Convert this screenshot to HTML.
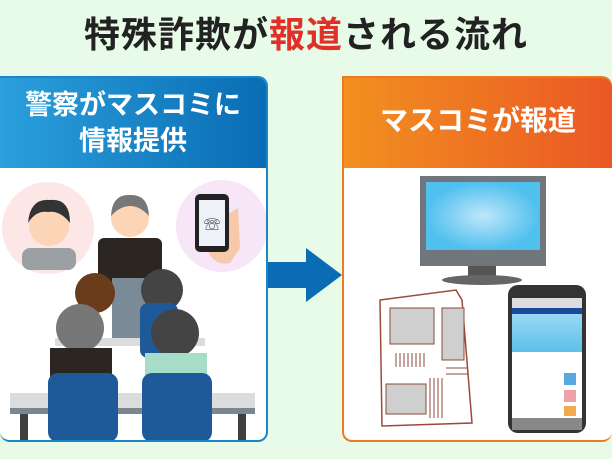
<!DOCTYPE html>
<html><head><meta charset="utf-8"><style>
html,body{margin:0;padding:0}
body{width:612px;height:459px;background:#e8fbe8;position:relative;overflow:hidden;font-family:"Liberation Sans","Noto Sans CJK JP",sans-serif}
.title{position:absolute;left:0;width:612px;top:6px;text-align:center;font-size:36px;font-weight:bold;color:#222;letter-spacing:1px}
.title span{color:#e0302a}
.box{position:absolute;top:76px;height:366px;background:#fff;border-radius:0 10px 10px 10px;overflow:hidden;box-sizing:border-box}
.hd{height:90px;color:#fff;font-weight:bold;font-size:27px;text-align:center;line-height:36px;box-sizing:border-box}
</style></head><body>
<div class="title">特殊詐欺が<span>報道</span>される流れ</div>

<div class="box" style="left:0;width:268px;border:2px solid #1a86c8;border-left:none">
<div class="hd" style="background:linear-gradient(90deg,#2aa0dc,#0a6cb4);padding-top:9px">警察がマスコミに<br>情報提供</div>
<svg width="266" height="274" viewBox="0 0 266 274" style="display:block">
<circle cx="48" cy="60" r="46" fill="#fde6e6"/>
<rect x="22" y="80" width="54" height="22" rx="8" fill="#9aa0a4"/>
<circle cx="49" cy="58" r="20" fill="#fbd5b5"/>
<path d="M28 55 Q30 30 50 32 Q70 30 70 55 Q60 42 48 44 Q36 42 28 55Z" fill="#333"/>
<circle cx="222" cy="58" r="46" fill="#f7e6f8"/>
<path d="M205 60 Q205 100 230 95 L240 80 L238 40Z" fill="#f6c9a8"/>
<rect x="195" y="26" width="34" height="58" rx="5" fill="#222"/>
<rect x="199" y="32" width="26" height="46" fill="#eef2f8"/>
<text x="212" y="62" font-size="16" text-anchor="middle" fill="#222">☏</text>
<rect x="98" y="70" width="64" height="50" rx="6" fill="#2c2623"/>
<circle cx="130" cy="50" r="19" fill="#fbd5b5"/>
<path d="M111 48 Q112 26 130 27 Q148 26 149 48 Q140 38 130 38 Q120 38 111 48Z" fill="#777"/>
<rect x="112" y="110" width="50" height="60" fill="#7a8a96"/>
<rect x="55" y="170" width="150" height="8" fill="#dcdcdc"/>
<circle cx="95" cy="125" r="20" fill="#6b3c1c"/>
<circle cx="162" cy="122" r="21" fill="#444"/>
<rect x="140" y="135" width="38" height="55" rx="8" fill="#1e5a9a"/>
<circle cx="80" cy="160" r="24" fill="#777"/>
<rect x="50" y="180" width="62" height="40" fill="#2c2623"/>
<circle cx="175" cy="165" r="24" fill="#444"/>
<rect x="145" y="185" width="62" height="40" fill="#a6dcc8"/>
<rect x="10" y="225" width="245" height="16" fill="#dcdcdc"/>
<rect x="10" y="240" width="245" height="6" fill="#7a8790"/>
<rect x="20" y="246" width="8" height="28" fill="#3f3f3f"/>
<rect x="238" y="246" width="8" height="28" fill="#3f3f3f"/>
<rect x="48" y="205" width="70" height="69" rx="10" fill="#1e5a9a"/>
<rect x="142" y="205" width="70" height="69" rx="10" fill="#1e5a9a"/>
</svg>
</div>

<svg style="position:absolute;left:268px;top:248px" width="76" height="56"><polygon points="0,14 38,14 38,0 74,27 38,54 38,40 0,40" fill="#0a6cb4"/></svg>

<div class="box" style="left:342px;width:270px;border:2px solid #ee7a20;border-right:none">
<div class="hd" style="background:linear-gradient(90deg,#f29020,#ea5824);padding-top:25px;font-size:28px">マスコミが報道</div>
<svg width="268" height="274" viewBox="0 0 268 274" style="display:block">
<rect x="76" y="8" width="126" height="90" fill="#70767b"/>
<defs><radialGradient id="g"><stop offset="0" stop-color="#bfe6fa"/><stop offset="1" stop-color="#50c0ee"/></radialGradient>
<linearGradient id="p" x1="0" y1="0" x2="0" y2="1"><stop offset="0" stop-color="#9ad8f4"/><stop offset="1" stop-color="#5cc0ea"/></linearGradient></defs>
<rect x="82" y="14" width="114" height="68" fill="url(#g)"/>
<rect x="124" y="98" width="28" height="10" fill="#555"/>
<ellipse cx="138" cy="112" rx="40" ry="5" fill="#666"/>
<path d="M36 132 L112 122 L118 132 L128 255 L38 258Z" fill="#fff" stroke="#9a4a3a" stroke-width="1.5"/>
<rect x="46" y="140" width="44" height="36" fill="#cfcfcf" stroke="#8a4a3a"/>
<rect x="98" y="140" width="22" height="52" fill="#cfcfcf" stroke="#8a4a3a"/>
<rect x="42" y="216" width="40" height="30" fill="#cfcfcf" stroke="#8a4a3a"/>
<g stroke="#8a4a3a" stroke-width="1"><path d="M52 185v14M56 185v14M60 185v14M64 185v14M68 185v14M72 185v14M76 185v14M80 185v14M86 210v40M90 210v40M94 210v40M98 210v40M102 200h22M102 206h22"/></g>
<rect x="164" y="117" width="78" height="148" rx="10" fill="#333"/>
<rect x="168" y="130" width="70" height="120" fill="#fff"/>
<rect x="168" y="130" width="70" height="10" fill="#ddd"/>
<rect x="168" y="140" width="70" height="6" fill="#1a4a9a"/>
<rect x="168" y="146" width="70" height="38" fill="url(#p)"/>
<rect x="220" y="205" width="12" height="12" fill="#5aa8e0"/>
<rect x="220" y="222" width="12" height="12" fill="#f0a0a8"/>
<rect x="220" y="238" width="12" height="10" fill="#f5a850"/>
<rect x="168" y="250" width="70" height="12" fill="#888"/>
</svg>
</div>
</body></html>
